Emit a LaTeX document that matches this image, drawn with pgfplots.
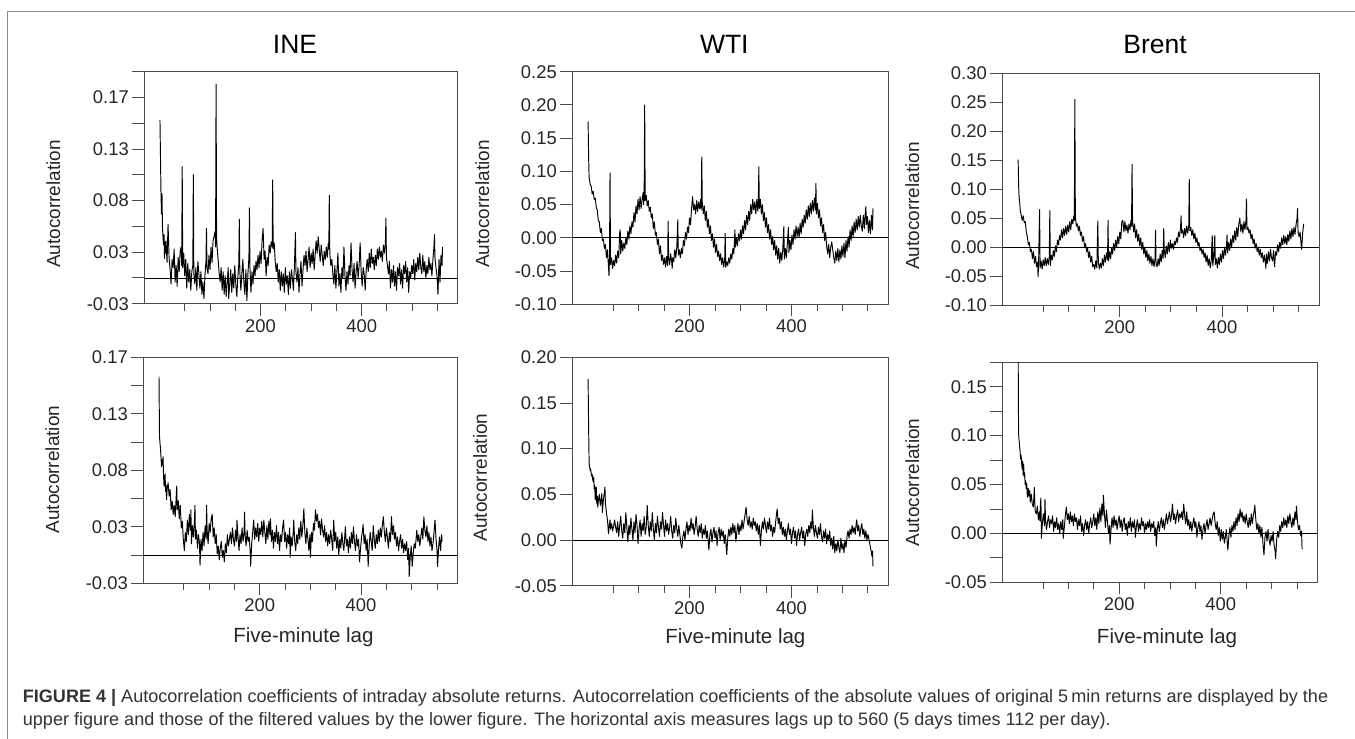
\documentclass[border=0pt]{standalone}
\usepackage{fontspec}
\setmainfont{Liberation Sans}
\usepackage{pgfplots}
\pgfplotsset{compat=1.18}

\definecolor{spine}{gray}{0.3}
\definecolor{captxt}{gray}{0.2}
\definecolor{framegray}{gray}{0.55}

\pgfplotsset{
  acf/.style={
    scale only axis,
    xmin=-30, xmax=590,
    axis line style={spine, line width=0.9pt},
    tick align=outside, tick pos=left,
    major tick length=12pt, minor tick length=7pt,
    tick style={spine, line width=0.9pt},
    xtick={200,400}, xticklabels={200,400},
    minor xtick={50,100,150,250,300,350,450,500,550},
    ticklabel style={font=\fontsize{18.4}{20}\selectfont, text=black!85},
    ylabel={Autocorrelation},
    ylabel style={font=\fontsize{19}{21}\selectfont, text=black!85, anchor=center},
    xlabel style={font=\fontsize{20.5}{22}\selectfont, text=black!85, anchor=base},
  },
  zero/.style={black, line width=0.8pt, no marks, forget plot},
  acfline/.style={black, line width=0.95pt, no marks, line join=round},
}

\begin{document}
\begin{tikzpicture}
\useasboundingbox (0pt,0pt) rectangle (1355pt,739pt);

% frame round the figure
\draw[framegray, line width=1pt] (7.3pt,0pt) -- (7.3pt,727.3pt) -- (1355pt,727.3pt);

% column titles
\node[anchor=base, font=\fontsize{26.5}{30}\selectfont] at (295pt,685.7pt) {INE};
\node[anchor=base, font=\fontsize{26.5}{30}\selectfont] at (724.3pt,685.7pt) {WTI};
\node[anchor=base, font=\fontsize{26.5}{30}\selectfont] at (1155pt,685pt) {Brent};

% ---------- top row: original returns ----------
\begin{axis}[acf, at={(144.3pt,435.3pt)}, anchor=south west,
  width=313.4pt, height=232pt, ymin=-0.025, ymax=0.2,
  ytick={-0.025,0,0.025,0.05,0.075,0.1,0.125,0.15,0.175,0.2},
  yticklabels={-0.03,,0.03,,0.08,,0.13,,0.17,},
  ylabel style={at={(axis description cs:-0.29,0.43)}}]
\addplot[zero] coordinates {(-30,0) (590,0)};
\addplot[acfline] table {
1 0.153
2 0.118
3 0.083
4 0.062
5 0.082
6 0.048
7 0.040
8 0.032
9 0.042
10 0.019
11 0.035
12 0.024
13 0.036
15 0.015
17 0.052
19 0.020
21 0.008
23 -0.006
25 0.018
27 0.010
29 0.028
31 -0.004
33 0.012
35 -0.008
37 0.020
39 0.006
41 0.026
43 0.030
44 0.012
45 0.108
46 0.010
48 0.024
50 0.002
52 0.018
54 -0.010
56 0.014
58 -0.004
60 0.008
62 -0.012
64 0.006
66 0.012
67 0.100
68 0.004
70 -0.006
72 0.010
74 -0.012
76 0.016
78 0.004
80 -0.010
82 0.006
84 -0.016
86 -0.004
88 -0.020
90 0.002
92 0.016
93 0.048
94 0.010
96 0.004
98 0.022
100 0.008
102 0.030
104 0.015
106 0.036
108 0.040
110 0.045
111 0.030
112 0.188
113 0.040
114 0.030
116 0.018
118 0.005
120 -0.004
122 0.010
124 -0.012
126 0.006
128 -0.016
130 0.002
132 -0.018
134 -0.004
136 0.010
137 -0.020
139 -0.006
141 0.008
143 -0.014
145 0.004
147 -0.010
149 0.012
151 -0.006
153 -0.018
155 0.000
157 0.014
158 0.057
159 0.006
161 -0.012
163 0.004
165 0.018
167 -0.004
169 -0.016
171 0.008
173 -0.022
175 0.004
177 0.020
178 0.068
179 0.010
181 -0.014
183 0.006
185 -0.006
187 0.012
189 0.002
191 0.016
193 0.008
195 0.022
197 0.010
199 0.026
201 0.014
203 0.036
205 0.048
207 0.018
209 0.026
211 0.002
213 0.020
215 0.012
217 0.032
219 0.024
221 0.035
223 0.030
224 0.095
225 0.028
227 0.034
229 0.016
231 0.006
233 0.014
235 -0.004
237 0.008
239 -0.012
241 0.006
243 -0.008
245 0.004
247 -0.014
249 0.010
251 -0.006
253 0.002
255 -0.016
257 0.006
259 -0.010
261 0.008
263 0.000
265 -0.012
267 0.012
269 0.044
270 0.006
272 -0.004
274 0.010
276 -0.014
278 0.004
280 0.016
282 -0.008
284 0.008
286 0.022
288 0.012
290 0.026
292 0.006
294 0.018
296 0.030
298 0.010
300 0.024
302 0.014
304 0.028
306 0.008
308 0.022
310 0.036
312 0.024
314 0.040
316 0.028
318 0.016
320 0.032
322 0.022
324 0.012
326 0.026
328 0.018
330 0.030
332 0.020
334 0.034
335 0.028
336 0.080
337 0.024
339 0.012
341 0.018
343 0.004
345 -0.006
347 0.012
349 -0.010
351 0.006
353 0.024
355 -0.008
357 0.004
359 -0.014
361 0.010
363 0.000
365 0.030
367 0.002
369 -0.012
371 0.006
373 -0.006
375 0.012
377 0.002
379 0.034
381 0.008
383 -0.004
385 0.014
387 -0.010
389 0.006
391 0.016
393 0.000
395 0.012
397 0.034
399 0.006
401 -0.008
403 0.010
405 0.004
407 -0.012
409 0.008
411 0.018
413 0.006
415 0.024
417 0.010
419 0.028
421 0.014
423 0.020
425 0.008
427 0.022
429 0.012
431 0.028
433 0.018
435 0.030
437 0.020
439 0.026
441 0.016
443 0.032
445 0.024
447 0.034
448 0.058
449 0.020
451 0.012
453 0.004
455 0.016
457 -0.010
459 0.008
461 -0.004
463 0.012
465 -0.008
467 0.006
469 -0.012
471 0.010
473 0.002
475 0.014
477 -0.006
479 0.008
481 -0.010
483 0.012
485 0.004
487 0.016
489 -0.004
491 0.010
493 -0.014
495 0.006
497 0.000
499 0.012
501 0.004
503 0.018
505 -0.002
507 0.014
509 0.006
511 0.020
513 0.008
515 0.024
517 0.010
519 0.004
521 0.022
523 0.006
525 0.016
527 0.000
529 0.012
531 0.004
533 0.020
535 0.008
537 0.014
539 0.002
541 0.018
543 0.030
544 0.042
545 0.020
547 0.010
549 0.002
551 -0.016
553 0.018
555 -0.004
557 0.022
559 0.012
560 0.030
};
\end{axis}

\begin{axis}[acf, at={(572.3pt,434.7pt)}, anchor=south west,
  width=316pt, height=232.6pt, ymin=-0.1, ymax=0.25,
  ytick={-0.1,-0.05,0,0.05,0.1,0.15,0.2,0.25},
  yticklabels={-0.10,-0.05,0.00,0.05,0.10,0.15,0.20,0.25},
  ylabel style={at={(axis description cs:-0.285,0.431)}}]
\addplot[zero] coordinates {(-30,0) (590,0)};
\addplot[acfline] table {
1 0.175
2 0.122
3 0.090
4 0.086
5 0.080
7 0.078
9 0.066
11 0.070
13 0.058
15 0.060
17 0.046
19 0.042
21 0.026
23 0.024
25 0.008
27 0.014
29 -0.004
31 -0.002
33 -0.016
35 -0.010
37 -0.030
39 -0.018
41 -0.044
42 -0.057
43 -0.030
44 0.098
45 -0.040
47 -0.030
49 -0.046
51 -0.034
53 -0.042
55 -0.026
57 -0.038
59 -0.020
61 -0.030
63 0.008
64 0.012
65 -0.024
67 -0.004
69 -0.020
71 -0.008
73 -0.016
75 0.000
77 -0.010
79 0.010
81 -0.002
83 0.018
85 0.006
87 0.024
89 0.016
91 0.038
93 0.024
95 0.048
97 0.036
99 0.058
101 0.042
103 0.062
105 0.044
107 0.058
109 0.068
110 0.050
111 0.070
112 0.200
113 0.056
115 0.064
117 0.048
119 0.056
121 0.040
123 0.046
125 0.030
127 0.036
129 0.014
131 0.024
133 0.004
135 0.008
137 -0.010
139 -0.002
141 -0.024
143 -0.012
145 -0.034
147 -0.026
149 -0.040
151 -0.030
153 -0.044
155 -0.028
157 -0.042
158 0.025
159 -0.030
161 -0.040
163 -0.024
165 -0.036
166 -0.046
167 -0.030
169 -0.036
171 -0.018
173 -0.030
175 -0.014
177 0.027
178 -0.026
180 -0.018
182 -0.030
184 -0.016
186 -0.024
188 -0.004
190 -0.012
192 0.008
194 -0.002
196 0.016
198 0.008
200 0.030
202 0.020
204 0.044
206 0.062
208 0.042
210 0.050
212 0.036
214 0.056
216 0.040
218 0.054
220 0.044
222 0.058
223 0.042
224 0.122
225 0.054
227 0.036
229 0.048
231 0.026
233 0.040
235 0.016
237 0.028
239 0.006
241 0.018
243 -0.004
245 0.006
247 -0.014
249 -0.002
251 -0.022
253 -0.010
255 -0.028
257 -0.020
259 -0.034
261 -0.024
263 -0.040
265 -0.030
267 -0.044
269 -0.032
270 0.007
271 -0.044
273 -0.036
275 -0.042
277 -0.030
279 -0.038
281 -0.024
283 -0.032
285 -0.016
287 -0.024
289 0.012
290 -0.014
292 0.000
294 -0.012
296 0.006
298 -0.004
300 0.012
302 -0.002
304 0.018
306 0.006
308 0.026
310 0.012
312 0.034
314 0.020
316 0.040
318 0.026
320 0.050
322 0.036
324 0.058
326 0.042
328 0.054
330 0.036
332 0.058
334 0.040
335 0.054
336 0.107
337 0.044
339 0.058
341 0.036
343 0.050
345 0.026
347 0.038
349 0.016
351 0.030
353 0.008
355 0.020
357 -0.002
359 0.012
361 -0.010
363 0.002
365 -0.018
367 -0.004
369 -0.026
371 -0.012
373 -0.032
375 -0.016
377 -0.038
379 -0.022
381 -0.034
383 -0.016
385 0.017
386 -0.032
388 -0.016
390 -0.030
392 -0.008
394 0.016
395 -0.022
397 -0.004
399 -0.018
401 0.004
403 -0.010
405 0.012
407 -0.002
409 0.018
411 0.002
413 0.016
415 0.000
417 0.022
419 0.006
421 0.028
423 0.016
425 0.034
427 0.022
429 0.042
431 0.028
433 0.048
435 0.032
437 0.052
439 0.036
441 0.056
443 0.040
445 0.060
447 0.042
448 0.082
449 0.036
451 0.052
453 0.030
455 0.042
457 0.018
459 0.030
461 0.008
463 0.020
465 -0.004
467 0.008
469 -0.012
471 -0.024
473 -0.010
475 -0.030
477 -0.014
479 -0.006
481 -0.018
483 -0.030
485 -0.038
487 -0.020
489 -0.034
491 -0.016
493 -0.036
495 -0.018
497 -0.032
499 -0.012
501 -0.028
503 -0.008
505 -0.030
507 -0.004
509 -0.020
511 0.002
513 -0.014
515 0.012
517 -0.004
519 0.018
521 0.002
523 0.024
525 0.008
527 0.028
529 0.012
531 0.032
533 0.016
535 0.034
537 0.018
539 0.010
541 0.034
543 0.014
545 0.040
546 0.047
547 0.020
549 0.032
551 0.008
553 0.026
555 0.006
557 0.034
559 0.012
560 0.045
};
\end{axis}

\begin{axis}[acf, at={(1002.3pt,434pt)}, anchor=south west,
  width=316.7pt, height=231.7pt, ymin=-0.1, ymax=0.3,
  ytick={-0.1,-0.05,0,0.05,0.1,0.15,0.2,0.25,0.3},
  yticklabels={-0.10,-0.05,0.00,0.05,0.10,0.15,0.20,0.25,0.30},
  ylabel style={at={(axis description cs:-0.284,0.427)}}]
\addplot[zero] coordinates {(-30,0) (590,0)};
\addplot[acfline] table {
1 0.151
2 0.104
3 0.084
4 0.078
5 0.064
7 0.055
9 0.046
11 0.054
13 0.042
15 0.044
17 0.026
19 0.018
21 0.004
23 0.008
25 -0.008
27 -0.004
29 -0.020
31 -0.008
33 -0.028
35 -0.016
37 -0.034
39 -0.026
40 -0.051
41 -0.030
43 0.065
44 -0.036
46 -0.024
48 -0.038
50 -0.022
52 -0.032
54 -0.018
56 -0.032
58 -0.020
60 -0.030
62 -0.016
63 0.063
64 -0.032
66 -0.014
68 -0.022
70 -0.006
72 -0.016
74 0.002
76 -0.008
78 0.012
80 0.004
82 0.020
84 0.012
86 0.030
88 0.016
90 0.032
92 0.020
94 0.036
96 0.022
98 0.038
100 0.026
102 0.044
104 0.030
106 0.048
108 0.040
110 0.054
111 0.046
112 0.255
113 0.052
115 0.036
117 0.040
119 0.028
121 0.036
123 0.020
125 0.026
127 0.010
129 0.018
131 0.000
133 0.006
135 -0.008
137 -0.002
139 -0.018
141 -0.008
143 -0.026
145 -0.016
147 -0.034
149 -0.030
151 -0.038
153 -0.024
155 -0.036
157 0.045
158 -0.026
160 -0.038
162 -0.028
164 -0.036
166 -0.020
168 -0.032
170 -0.014
172 -0.026
174 -0.010
176 -0.022
177 0.046
178 -0.024
180 -0.008
182 -0.020
184 -0.002
186 -0.012
188 0.006
190 -0.006
192 0.012
194 0.000
196 0.018
198 0.006
200 0.026
202 0.014
204 0.044
206 0.046
208 0.026
210 0.044
212 0.028
214 0.038
216 0.024
218 0.040
220 0.030
222 0.046
223 0.036
224 0.143
225 0.046
227 0.026
229 0.040
231 0.016
233 0.030
235 0.010
237 0.022
239 0.002
241 0.016
243 -0.004
245 0.008
247 -0.012
249 0.000
251 -0.018
253 -0.006
255 -0.024
257 -0.012
259 -0.028
261 -0.016
263 -0.032
265 -0.020
267 -0.034
269 -0.020
270 0.029
271 -0.030
273 -0.034
275 -0.020
277 -0.032
279 -0.012
281 -0.026
283 -0.006
285 -0.020
286 0.032
287 -0.004
289 -0.018
291 0.002
293 -0.012
295 0.008
297 -0.008
299 0.012
301 -0.002
303 0.006
305 -0.004
307 0.010
309 0.004
311 0.016
313 0.008
315 0.026
317 0.018
319 0.034
320 0.054
321 0.024
323 0.030
325 0.016
327 0.032
329 0.020
331 0.036
333 0.024
335 0.038
336 0.117
337 0.028
339 0.034
341 0.020
343 0.030
345 0.014
347 0.024
349 0.008
351 0.016
353 0.002
355 0.008
357 -0.006
359 0.000
361 -0.012
363 -0.004
365 -0.018
367 -0.010
369 -0.026
371 -0.014
373 -0.032
375 -0.020
377 -0.036
379 -0.024
381 0.020
382 -0.032
384 -0.016
386 0.020
387 -0.030
389 -0.020
391 -0.036
393 -0.018
395 -0.030
397 -0.012
399 -0.026
401 -0.006
403 -0.020
405 -0.002
407 -0.014
409 0.004
410 0.021
411 -0.010
413 0.008
415 -0.006
417 0.014
419 0.000
421 0.020
423 0.008
425 0.028
427 0.012
429 0.034
431 0.018
433 0.040
435 0.050
437 0.026
439 0.040
441 0.024
443 0.044
445 0.030
447 0.046
448 0.083
449 0.030
451 0.034
453 0.024
455 0.030
457 0.014
459 0.022
461 0.006
463 0.014
465 -0.002
467 0.006
469 -0.008
471 0.000
473 -0.014
475 -0.004
477 -0.018
479 -0.010
481 -0.026
483 -0.014
485 -0.028
486 -0.037
487 -0.012
489 -0.028
491 -0.008
493 -0.024
495 -0.004
497 -0.018
499 -0.024
501 -0.006
503 -0.034
505 -0.008
507 -0.014
509 0.004
511 -0.008
513 0.008
515 -0.002
517 0.016
519 0.004
521 0.020
523 0.006
525 0.018
527 0.004
529 0.022
531 0.010
533 0.028
535 0.014
537 0.032
539 0.018
541 0.034
543 0.022
545 0.038
547 0.050
548 0.067
549 0.026
551 0.018
553 0.026
555 0.004
556 -0.004
558 0.024
560 0.040
};
\end{axis}

% ---------- bottom row: filtered returns ----------
\begin{axis}[acf, at={(143.3pt,155.7pt)}, anchor=south west,
  width=314pt, height=226pt, ymin=-0.025, ymax=0.175,
  ytick={-0.025,0,0.025,0.05,0.075,0.1,0.125,0.15,0.175},
  yticklabels={-0.03,,0.03,,0.08,,0.13,,0.17},
  ylabel style={at={(axis description cs:-0.29,0.503)}},
  xlabel={Five-minute lag},
  xlabel style={at={(axis description cs:0.51,-0.26)}}]
\addplot[zero] coordinates {(-30,0) (590,0)};
\addplot[acfline] table {
1 0.158
2 0.105
3 0.099
4 0.094
5 0.086
6 0.078
7 0.084
8 0.080
9 0.087
10 0.070
11 0.061
12 0.066
13 0.072
14 0.056
15 0.062
16 0.049
17 0.058
19 0.064
21 0.052
23 0.058
25 0.040
27 0.048
29 0.036
31 0.044
33 0.034
35 0.052
36 0.061
37 0.040
39 0.048
41 0.032
43 0.044
45 0.024
47 0.030
49 0.014
51 0.004
53 0.020
55 0.012
57 0.031
59 0.018
61 0.036
63 0.022
64 0.040
65 0.010
67 0.026
69 0.016
71 0.030
72 0.044
73 0.014
75 0.022
77 0.006
79 0.018
81 0.010
82 -0.009
84 0.014
86 0.004
88 0.020
90 0.008
92 0.026
94 0.014
95 0.044
96 0.022
98 0.010
100 0.028
102 0.020
104 0.032
106 0.036
108 0.016
110 0.024
112 0.010
114 0.018
116 0.001
118 0.008
120 -0.004
122 0.006
124 0.012
126 -0.002
128 0.004
130 -0.006
132 0.010
134 0.002
136 0.018
138 0.008
140 0.014
142 0.020
144 0.010
146 0.024
148 0.014
150 0.008
152 0.022
154 0.012
155 0.031
157 0.016
159 0.004
161 0.018
163 0.010
165 0.024
167 0.012
169 0.020
170 0.038
171 0.018
173 0.008
175 0.022
177 0.012
179 0.016
181 0.004
182 -0.010
184 0.010
186 0.020
188 0.031
190 0.014
192 0.024
194 0.016
196 0.028
198 0.012
200 0.024
202 0.018
204 0.030
206 0.016
208 0.031
210 0.020
212 0.010
214 0.026
216 0.014
218 0.030
220 0.018
221 0.032
223 0.012
225 0.022
227 0.006
229 0.020
231 0.012
233 0.026
235 0.010
237 0.020
239 0.004
241 0.018
243 0.012
245 0.024
247 0.031
249 0.012
251 0.020
253 0.006
255 0.018
257 0.010
259 0.024
260 -0.002
262 0.016
264 0.008
266 0.020
267 0.031
269 0.012
271 0.004
273 0.018
275 0.010
277 0.024
279 0.014
281 0.030
283 0.016
285 0.026
287 0.041
289 0.020
291 0.010
293 0.024
295 0.014
297 0.004
299 0.018
300 -0.002
302 0.020
304 0.012
306 0.028
308 0.022
310 0.040
312 0.030
314 0.036
316 0.024
318 0.030
320 0.018
322 0.032
324 0.022
326 0.016
328 0.026
330 0.012
332 0.020
334 0.008
336 0.018
338 0.010
340 0.022
342 0.014
344 0.004
346 0.031
348 0.012
350 0.020
352 0.006
354 0.016
356 0.000
358 0.014
360 0.006
362 0.020
364 0.010
366 0.004
368 0.018
369 0.025
371 0.008
373 0.014
375 0.002
377 0.016
379 0.006
381 0.020
383 0.010
385 0.025
387 0.012
389 0.004
391 0.018
393 0.008
395 0.014
397 -0.006
399 0.006
401 0.016
403 0.022
404 0.027
406 0.010
408 0.018
410 0.004
412 0.014
414 -0.010
416 0.008
418 0.020
420 0.012
422 0.004
424 0.026
426 0.014
428 0.006
430 0.018
432 0.010
434 0.022
436 0.012
438 0.024
440 0.016
442 0.026
444 0.034
446 0.020
448 0.012
450 0.024
452 0.016
454 0.006
456 0.020
458 0.012
460 0.034
462 0.018
464 0.026
466 0.014
468 0.020
470 0.008
472 0.016
474 0.004
476 0.012
478 0.018
480 0.006
482 0.014
484 0.002
486 0.010
488 0.004
490 0.012
492 -0.004
494 0.006
495 -0.019
497 -0.002
499 0.008
501 -0.010
503 0.002
505 0.010
507 0.006
509 0.016
510 0.022
512 0.012
514 0.018
516 0.008
518 0.016
520 0.024
522 0.014
524 0.034
526 0.022
528 0.016
530 0.026
532 0.012
534 0.020
536 0.008
538 0.016
540 0.004
542 0.010
544 0.020
546 0.031
548 0.014
550 0.004
551 -0.010
553 0.006
555 0.016
557 0.004
559 0.018
560 0.012
};
\end{axis}

\begin{axis}[acf, at={(572.3pt,153.3pt)}, anchor=south west,
  width=316pt, height=228.4pt, ymin=-0.05, ymax=0.2,
  ytick={-0.05,0,0.05,0.1,0.15,0.2},
  yticklabels={-0.05,0.00,0.05,0.10,0.15,0.20},
  ylabel style={at={(axis description cs:-0.292,0.474)}},
  xlabel={Five-minute lag},
  xlabel style={at={(axis description cs:0.516,-0.255)}}]
\addplot[zero] coordinates {(-30,0) (590,0)};
\addplot[acfline] table {
1 0.176
2 0.124
3 0.084
4 0.080
5 0.076
6 0.078
7 0.073
8 0.070
9 0.072
10 0.066
11 0.064
12 0.069
13 0.056
14 0.060
15 0.044
16 0.052
17 0.058
18 0.040
19 0.048
20 0.036
21 0.042
23 0.050
25 0.038
27 0.046
28 0.051
29 0.030
31 0.044
33 0.052
34 0.058
35 0.040
37 0.030
39 0.022
41 0.007
43 0.018
44 0.022
45 0.012
47 0.018
49 0.010
51 0.015
53 0.022
55 0.014
57 0.008
59 0.020
61 0.004
63 0.016
65 0.026
67 0.010
69 0.002
71 0.018
73 0.008
75 0.030
77 0.014
79 -0.002
81 0.016
83 0.006
85 0.024
87 0.012
89 0.000
91 0.020
93 0.008
95 0.028
97 0.016
99 -0.004
101 0.012
103 0.022
105 0.004
107 0.018
109 0.010
111 0.026
113 0.006
115 0.014
117 0.038
119 0.016
121 0.004
123 0.020
125 0.010
127 0.030
129 0.012
131 0.000
133 0.018
135 0.008
137 0.026
139 0.014
141 0.004
143 0.020
145 0.012
147 0.030
149 0.016
151 0.004
153 0.022
155 0.010
157 0.018
159 0.006
161 0.014
163 0.026
165 0.010
167 0.002
169 0.016
171 0.008
173 0.024
175 0.012
177 0.004
179 0.016
181 0.006
183 -0.004
185 -0.009
187 0.004
189 0.010
191 0.000
193 0.012
195 0.020
197 0.006
199 0.016
201 0.010
203 0.024
205 0.012
207 0.018
209 0.006
211 0.014
213 0.026
215 0.012
217 0.004
219 0.016
221 0.008
223 0.018
225 0.002
227 0.012
229 0.006
231 0.016
233 0.002
235 0.010
237 -0.004
238 -0.011
240 0.006
242 0.012
244 -0.002
246 0.008
248 0.014
250 0.002
252 0.010
254 -0.006
256 0.008
258 0.014
260 0.000
262 0.012
264 0.004
266 0.010
268 -0.004
270 0.006
272 -0.008
273 -0.016
275 0.002
277 0.012
279 0.004
281 0.014
283 0.006
285 0.018
287 0.008
289 0.016
291 -0.002
293 0.010
295 0.018
297 0.006
299 0.016
301 0.010
303 0.022
305 0.012
307 0.020
309 0.028
311 0.036
313 0.022
315 0.016
317 0.026
319 0.014
321 0.020
323 0.012
325 0.024
327 0.016
329 0.020
331 0.010
333 0.018
335 0.006
337 0.016
339 -0.006
341 0.010
343 0.020
345 0.012
347 0.024
349 0.016
351 0.008
353 0.020
355 0.012
357 0.024
359 0.010
361 0.016
363 0.004
365 0.014
367 0.008
369 0.020
371 0.030
372 0.034
374 0.018
376 0.024
378 0.012
380 0.020
382 0.006
384 0.014
386 0.004
388 0.012
390 0.000
392 0.010
394 0.018
396 0.006
398 0.012
400 -0.004
402 0.008
404 0.014
406 0.002
408 0.010
410 -0.006
412 0.006
414 0.012
416 0.000
418 0.008
420 0.014
422 0.002
424 0.010
426 -0.006
428 0.006
430 0.012
432 0.004
434 0.016
436 0.008
438 0.020
440 0.012
441 0.033
443 0.014
445 0.004
447 0.016
449 0.008
451 0.002
453 0.014
455 0.006
457 0.018
459 0.004
461 -0.002
463 0.010
465 0.002
467 0.012
469 -0.004
471 0.006
473 0.000
475 0.010
477 -0.006
479 0.002
481 -0.010
483 0.004
485 -0.014
487 -0.004
489 -0.012
491 0.000
493 -0.008
495 -0.014
497 0.002
499 -0.010
501 -0.004
503 -0.014
505 0.000
507 -0.008
509 0.004
511 0.010
513 0.002
515 0.012
517 0.006
519 0.016
521 0.008
523 0.014
525 0.006
527 0.018
528 0.022
530 0.010
532 0.016
534 0.004
536 0.012
538 0.018
540 0.006
542 0.012
544 0.002
546 0.010
548 0.000
550 0.006
551 0.004
553 -0.002
555 -0.008
556 -0.011
558 -0.018
559 -0.012
560 -0.029
};
\end{axis}

\begin{axis}[acf, at={(1002.3pt,156.7pt)}, anchor=south west,
  width=315pt, height=220pt, ymin=-0.05, ymax=0.175,
  ytick={-0.05,-0.025,0,0.025,0.05,0.075,0.1,0.125,0.15,0.175},
  yticklabels={-0.05,,0.00,,0.05,,0.10,,0.15,},
  ylabel style={at={(axis description cs:-0.286,0.454)}},
  xlabel={Five-minute lag},
  xlabel style={at={(axis description cs:0.523,-0.276)}}]
\addplot[zero] coordinates {(-30,0) (590,0)};
\addplot[acfline] table {
1 0.210
2 0.102
3 0.095
4 0.090
5 0.084
6 0.076
7 0.080
8 0.072
9 0.066
10 0.074
11 0.060
12 0.071
13 0.058
14 0.062
15 0.050
16 0.054
17 0.046
18 0.051
19 0.040
20 0.037
21 0.046
23 0.038
24 0.044
25 0.032
27 0.040
29 0.030
31 0.027
32 0.036
33 0.047
34 0.030
35 0.022
37 0.020
39 0.028
41 0.014
43 0.022
44 0.013
45 0.030
46 0.036
47 -0.005
49 0.012
51 0.020
53 0.008
54 0.035
55 0.014
57 0.004
59 0.012
61 0.018
63 0.006
65 0.014
67 0.010
69 0.018
71 0.002
73 0.012
75 0.006
77 0.016
79 0.004
81 0.010
83 0.000
85 0.012
87 0.004
89 0.014
90 -0.005
92 0.006
94 0.018
96 0.027
98 0.014
100 0.020
102 0.010
104 0.022
106 0.012
108 0.018
110 0.008
112 0.020
114 0.012
116 0.016
118 0.004
120 0.014
122 0.008
124 0.018
126 0.002
128 0.010
130 -0.002
132 0.008
134 0.014
136 0.004
138 0.012
140 0.000
142 0.010
144 0.016
146 0.006
148 0.012
150 0.020
152 0.008
154 0.016
156 0.004
158 0.022
160 0.010
162 0.026
164 0.012
166 0.030
168 0.018
169 0.039
171 0.020
173 0.006
175 0.024
177 0.012
179 0.000
181 0.008
182 -0.011
184 0.004
186 0.016
188 0.006
190 0.018
192 0.008
194 0.014
196 0.004
198 0.012
200 0.018
202 0.006
204 0.014
206 0.002
208 0.012
210 0.016
212 0.004
214 0.010
216 -0.002
218 0.012
220 0.006
222 0.016
224 0.002
226 0.012
228 0.006
230 0.014
232 -0.004
234 0.008
236 0.014
238 0.002
240 0.010
242 0.004
244 0.016
246 0.008
248 0.012
250 0.000
252 0.010
254 0.004
256 0.012
258 0.006
260 0.014
262 0.002
264 0.010
266 0.006
268 0.012
270 -0.002
272 0.006
273 -0.013
275 0.004
277 0.012
279 0.002
281 0.010
283 0.016
285 0.006
287 0.014
289 0.004
291 0.012
293 0.020
295 0.010
297 0.016
299 0.022
301 0.012
303 0.018
305 0.030
307 0.014
309 0.020
311 0.010
313 0.018
315 0.024
317 0.012
319 0.020
321 0.016
323 0.022
325 0.014
327 0.030
329 0.018
331 0.010
333 0.022
335 0.008
337 0.014
339 0.004
341 0.012
343 0.002
345 0.010
347 0.016
349 0.006
351 0.012
353 -0.004
355 0.006
357 0.012
359 0.002
361 0.008
363 -0.006
365 0.004
367 0.010
369 0.000
371 0.008
373 0.014
375 0.004
377 0.010
379 0.016
381 0.008
383 0.014
385 0.020
387 0.022
389 0.010
391 0.004
393 0.012
395 -0.002
397 0.006
399 -0.008
401 0.004
403 -0.006
405 0.002
407 -0.010
409 -0.004
411 0.004
413 -0.012
414 -0.017
416 -0.002
418 0.006
420 -0.004
422 0.008
424 0.002
426 0.012
428 0.004
430 0.016
432 0.008
434 0.020
436 0.012
438 0.025
440 0.016
442 0.022
444 0.012
446 0.018
448 0.010
450 0.020
452 0.012
454 0.006
456 0.016
458 0.008
460 0.020
462 0.010
464 0.018
466 0.024
467 0.029
469 0.014
471 0.004
473 0.010
475 0.000
477 0.008
479 -0.004
481 0.006
483 -0.010
485 -0.022
487 -0.004
489 0.002
491 -0.008
493 0.004
495 -0.006
497 -0.012
499 -0.002
501 -0.008
503 0.002
505 -0.012
507 -0.018
508 -0.026
510 -0.006
512 0.002
514 -0.004
516 0.008
518 0.002
520 0.012
522 0.006
524 0.016
526 0.008
528 0.014
530 0.006
532 0.018
534 0.010
536 0.020
538 0.012
540 0.006
542 0.016
544 0.008
546 0.022
548 0.014
549 0.028
551 0.012
553 0.004
555 0.008
557 -0.002
559 0.002
560 -0.016
};
\end{axis}

% caption
\node[anchor=base west, inner sep=0pt, text=captxt, font=\fontsize{18.05}{23}\selectfont]
  at (22.7pt,36pt) {\textbf{FIGURE 4 |} Autocorrelation coefficients of intraday absolute returns. Autocorrelation coefficients of the absolute values of original 5\,min returns are displayed by the};
\node[anchor=base west, inner sep=0pt, text=captxt, font=\fontsize{18.05}{23}\selectfont]
  at (22.7pt,13pt) {upper figure and those of the filtered values by the lower figure. The horizontal axis measures lags up to 560 (5 days times 112 per day).};
\end{tikzpicture}
\end{document}
